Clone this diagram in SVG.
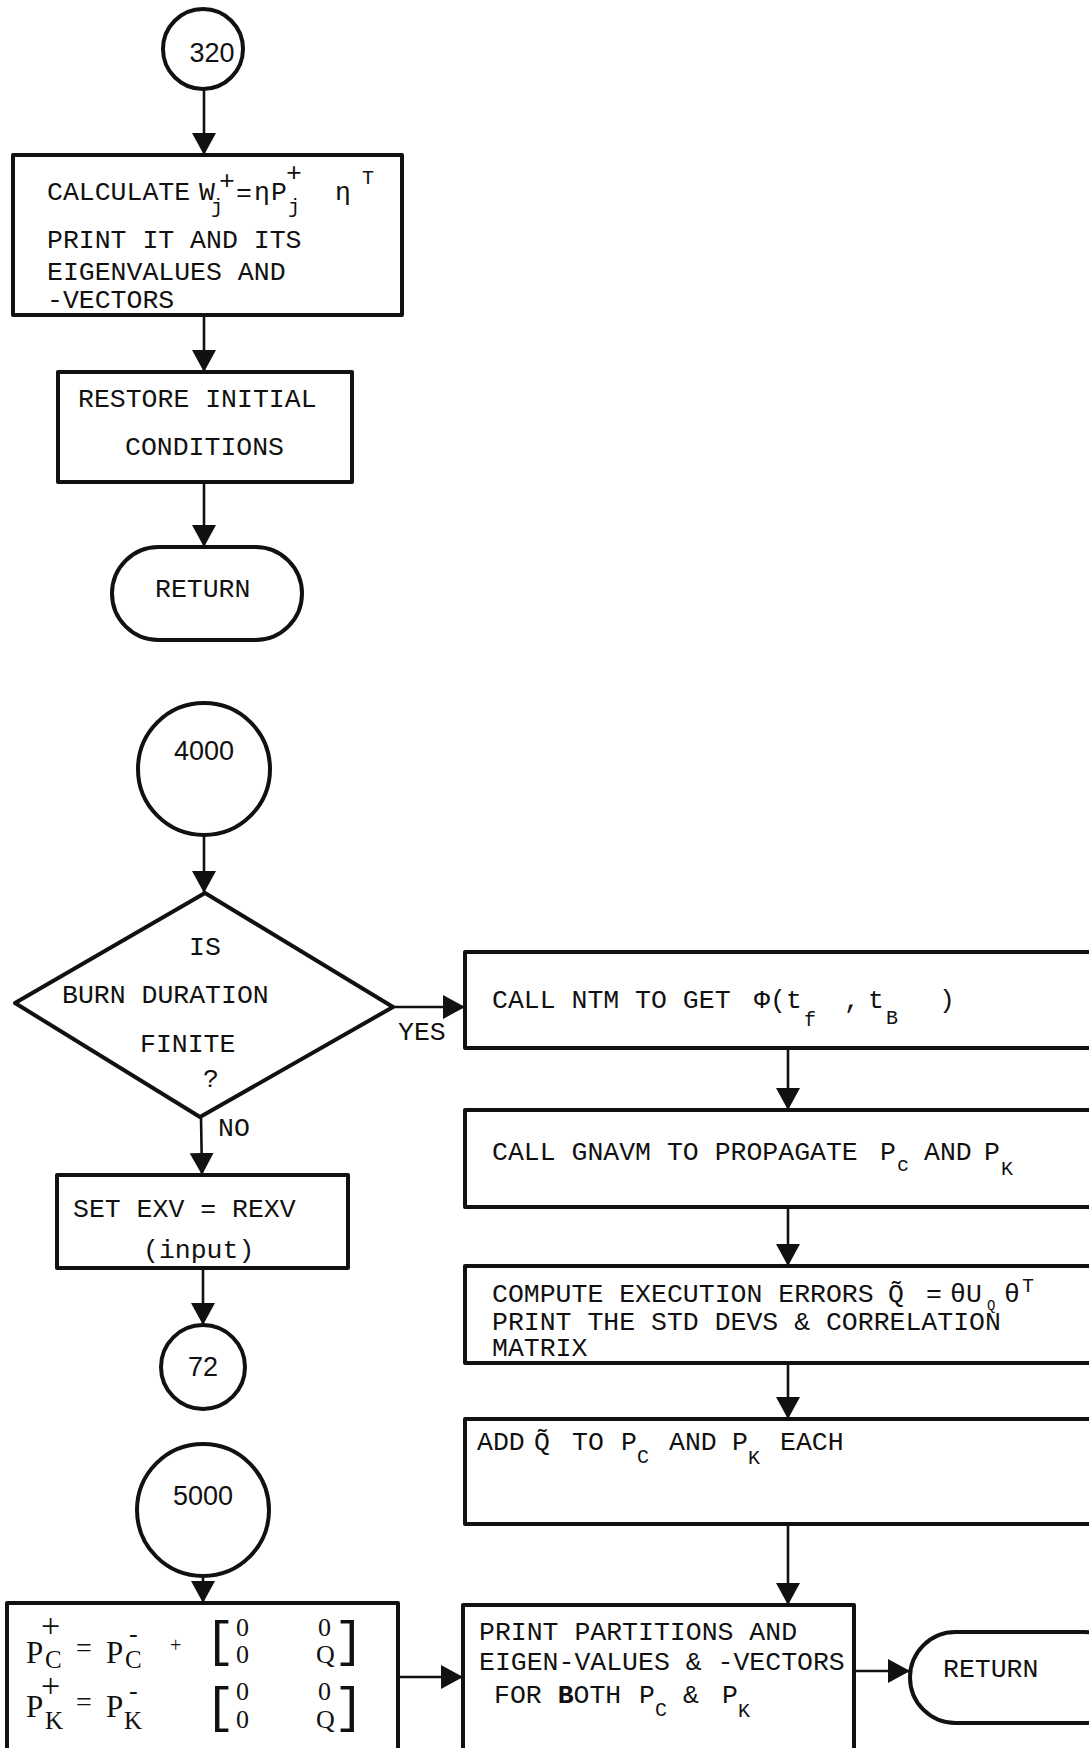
<svg xmlns="http://www.w3.org/2000/svg" width="1089" height="1748" viewBox="0 0 1089 1748">
<style>
.bg{fill:#fff}
.shape{fill:#fff;stroke:#111;stroke-width:4;stroke-linejoin:round}
.conn{fill:none;stroke:#111;stroke-width:2.6}
.t{font-family:"Liberation Mono","DejaVu Sans Mono",monospace;font-size:26.5px;fill:#111}
.f{font-family:"Liberation Serif","DejaVu Serif",serif;font-size:31px;fill:#111}
.n{font-family:"Liberation Sans",Arial,sans-serif;font-size:27px;fill:#111;text-anchor:middle}
.sm{font-size:20px}
.br{font-family:"Liberation Mono","DejaVu Sans Mono",monospace;font-size:50px}
.mx{font-size:26px}
.b{font-weight:bold}
</style>
<defs>
<marker id="ah" viewBox="0 0 22 24" refX="22" refY="12" markerWidth="22" markerHeight="24" markerUnits="userSpaceOnUse" orient="auto">
<path d="M0,0 L22,12 L0,24 z" fill="#111"/>
</marker>
</defs>
<rect class="bg" x="0" y="0" width="1089" height="1748"/>

<g id="connectors">
<line class="conn" x1="204" y1="89" x2="204" y2="155" marker-end="url(#ah)"/>
<line class="conn" x1="204" y1="315" x2="204" y2="372" marker-end="url(#ah)"/>
<line class="conn" x1="204" y1="482" x2="204" y2="547" marker-end="url(#ah)"/>
<line class="conn" x1="204" y1="835" x2="204" y2="893" marker-end="url(#ah)"/>
<line class="conn" x1="393" y1="1007" x2="465" y2="1007" marker-end="url(#ah)"/>
<line class="conn" x1="201" y1="1117" x2="202" y2="1175" marker-end="url(#ah)"/>
<line class="conn" x1="203" y1="1268" x2="203" y2="1325" marker-end="url(#ah)"/>
<line class="conn" x1="203" y1="1576" x2="203" y2="1603" marker-end="url(#ah)"/>
<line class="conn" x1="788" y1="1048" x2="788" y2="1110" marker-end="url(#ah)"/>
<line class="conn" x1="788" y1="1207" x2="788" y2="1266" marker-end="url(#ah)"/>
<line class="conn" x1="788" y1="1363" x2="788" y2="1419" marker-end="url(#ah)"/>
<line class="conn" x1="788" y1="1524" x2="788" y2="1605" marker-end="url(#ah)"/>
<line class="conn" x1="398" y1="1677" x2="463" y2="1677" marker-end="url(#ah)"/>
<line class="conn" x1="854" y1="1671" x2="910" y2="1671" marker-end="url(#ah)"/>
<text class="t" x="398" y="1040">YES</text>
<text class="t" x="218" y="1136">NO</text>
</g>

<g id="c320">
<circle class="shape" cx="203" cy="49" r="40"/>
<text class="n" x="212" y="62">320</text>
</g>

<g id="calc">
<rect class="shape" x="13" y="155" width="389" height="160"/>
<text class="t" x="47" y="200">CALCULATE<tspan x="199">W</tspan><tspan class="sm" x="211" y="213">j</tspan><tspan x="219" y="189">+</tspan><tspan x="236" y="201">=</tspan><tspan x="254" y="200">η</tspan><tspan x="271">P</tspan><tspan x="286" y="181">+</tspan><tspan class="sm" x="288" y="213">j</tspan><tspan x="335" y="200">η</tspan><tspan class="sm" x="362" y="184">T</tspan></text>
<text class="t" x="47" y="248">PRINT IT AND ITS</text>
<text class="t" x="47" y="280">EIGENVALUES AND</text>
<text class="t" x="47" y="308">-VECTORS</text>
</g>

<g id="restore">
<rect class="shape" x="58" y="372" width="294" height="110"/>
<text class="t" x="78" y="407">RESTORE INITIAL</text>
<text class="t" x="125" y="455">CONDITIONS</text>
</g>

<g id="return1">
<rect class="shape" x="112" y="547" width="190" height="93" rx="46.5" ry="46.5"/>
<text class="t" x="155" y="597">RETURN</text>
</g>

<g id="c4000">
<circle class="shape" cx="204" cy="769" r="66"/>
<text class="n" x="204" y="760">4000</text>
</g>

<g id="decision">
<polygon class="shape" points="205,893 393,1007 200,1117 15,1003"/>
<text class="t" x="189" y="955">IS</text>
<text class="t" x="62" y="1003">BURN DURATION</text>
<text class="t" x="140" y="1052">FINITE</text>
<text class="t" x="203" y="1087">?</text>
</g>

<g id="setexv">
<rect class="shape" x="57" y="1175" width="291" height="93"/>
<text class="t" x="73" y="1217">SET EXV = REXV</text>
<text class="t" x="143" y="1258">(input)</text>
</g>

<g id="c72">
<circle class="shape" cx="203" cy="1367" r="42"/>
<text class="n" x="203" y="1376">72</text>
</g>

<g id="c5000">
<circle class="shape" cx="203" cy="1510" r="66"/>
<text class="n" x="203" y="1505">5000</text>
</g>

<g id="pupdate">
<rect class="shape" x="7" y="1603" width="391" height="150"/>
<text class="f" y="1663"><tspan x="26">P</tspan><tspan x="41" y="1637" style="font-size:34px">+</tspan><tspan x="45" y="1668" style="font-size:25px">C</tspan><tspan x="76" y="1657" style="font-size:28px">=</tspan><tspan x="106" y="1663">P</tspan><tspan x="129" y="1642" style="font-size:26px">-</tspan><tspan x="125" y="1668" style="font-size:25px">C</tspan><tspan x="170" y="1652" style="font-size:20px">+</tspan><tspan class="br" x="205" y="1656">[</tspan><tspan class="mx" x="236" y="1636">0</tspan><tspan class="mx" x="236" y="1663">0</tspan><tspan class="mx" x="318" y="1636">0</tspan><tspan class="mx" x="316" y="1663">Q</tspan><tspan class="br" x="334" y="1656">]</tspan></text>
<text class="f" y="1717"><tspan x="26">P</tspan><tspan x="41" y="1697" style="font-size:34px">+</tspan><tspan x="45" y="1729" style="font-size:25px">K</tspan><tspan x="76" y="1711" style="font-size:28px">=</tspan><tspan x="106" y="1717">P</tspan><tspan x="129" y="1699" style="font-size:26px">-</tspan><tspan x="124" y="1729" style="font-size:25px">K</tspan><tspan class="br" x="205" y="1722">[</tspan><tspan class="mx" x="236" y="1700">0</tspan><tspan class="mx" x="236" y="1728">0</tspan><tspan class="mx" x="318" y="1700">0</tspan><tspan class="mx" x="316" y="1728">Q</tspan><tspan class="br" x="334" y="1722">]</tspan></text>
</g>

<g id="ntm">
<rect class="shape" x="465" y="952" width="640" height="96"/>
<text class="t" x="492" y="1008">CALL NTM TO GET<tspan x="754">Φ</tspan><tspan x="770">(t</tspan><tspan class="sm" x="804" y="1026">f</tspan><tspan x="844" y="1008">,</tspan><tspan x="868">t</tspan><tspan class="sm" x="886" y="1024">B</tspan><tspan x="939" y="1008">)</tspan></text>
</g>

<g id="gnavm">
<rect class="shape" x="465" y="1110" width="640" height="97"/>
<text class="t" x="492" y="1160">CALL GNAVM TO PROPAGATE<tspan x="880">P</tspan><tspan class="sm" x="897" y="1171">c</tspan><tspan x="924" y="1160">AND</tspan><tspan x="984">P</tspan><tspan class="sm" x="1001" y="1175">K</tspan></text>
</g>

<g id="compute">
<rect class="shape" x="465" y="1266" width="640" height="97"/>
<text class="t" x="492" y="1302">COMPUTE EXECUTION ERRORS<tspan x="888">Q&#x303;</tspan><tspan x="926">=</tspan><tspan x="950">θ</tspan><tspan x="966">U</tspan><tspan class="sm" x="987" y="1310" style="font-size:14px">Q</tspan><tspan x="1004" y="1302">θ</tspan><tspan class="sm" x="1022" y="1292">T</tspan></text>
<text class="t" x="492" y="1330">PRINT THE STD DEVS &amp; CORRELATION</text>
<text class="t" x="492" y="1356">MATRIX</text>
</g>

<g id="addq">
<rect class="shape" x="465" y="1419" width="640" height="105"/>
<text class="t" x="477" y="1450">ADD<tspan x="534">Q&#x303;</tspan><tspan x="572">TO</tspan><tspan x="621">P</tspan><tspan class="sm" x="637" y="1463">C</tspan><tspan x="669" y="1450">AND</tspan><tspan x="732">P</tspan><tspan class="sm" x="748" y="1464">K</tspan><tspan x="780" y="1450">EACH</tspan></text>
</g>

<g id="printpart">
<rect class="shape" x="463" y="1605" width="391" height="150"/>
<text class="t" x="479" y="1640">PRINT PARTITIONS AND</text>
<text class="t" x="479" y="1670">EIGEN-VALUES &amp; -VECTORS</text>
<text class="t" x="494" y="1703">FOR <tspan class="b">B</tspan>OTH<tspan x="639">P</tspan><tspan class="sm" x="655" y="1716">C</tspan><tspan x="683" y="1703">&amp;</tspan><tspan x="722">P</tspan><tspan class="sm" x="738" y="1717">K</tspan></text>
</g>

<g id="return2">
<rect class="shape" x="910" y="1632" width="220" height="91" rx="45.5" ry="45.5"/>
<text class="t" x="943" y="1677">RETURN</text>
</g>
</svg>
